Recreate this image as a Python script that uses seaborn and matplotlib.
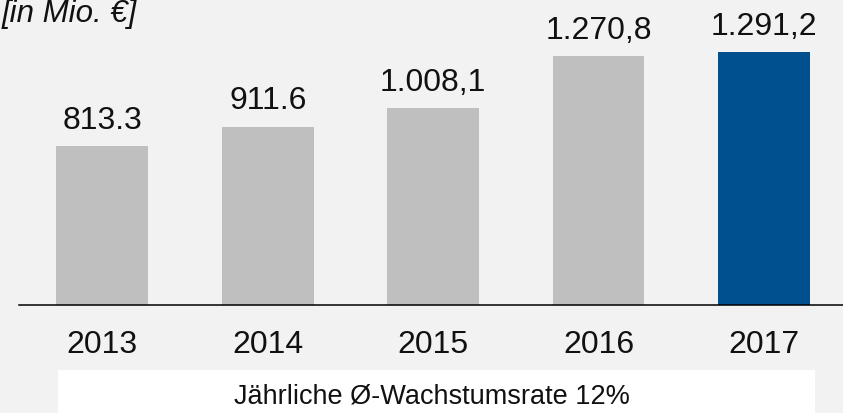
import matplotlib
matplotlib.use("Agg")
import matplotlib.pyplot as plt
import seaborn as sns
from matplotlib.patches import Rectangle

# data
years = ["2013", "2014", "2015", "2016", "2017"]
values = [813.3, 911.6, 1008.1, 1270.8, 1291.2]
value_labels = ["813.3", "911.6", "1.008,1", "1.270,8", "1.291,2"]
bar_colors = ["#bfbfbf", "#bfbfbf", "#bfbfbf", "#bfbfbf", "#005090"]
unit_label = "[in Mio. €]"
note = "Jährliche Ø-Wachstumsrate 12%"

sns.set_theme(style="white")
plt.rcParams["font.family"] = ["Liberation Sans", "DejaVu Sans"]

bg = "#f2f2f2"
W, H = 843, 414
fig = plt.figure(figsize=(W / 100, H / 100), dpi=100, facecolor=bg)
ax = fig.add_axes([19 / W, 108 / H, 824 / W, 306 / H])
ax.set_facecolor(bg)

sns.barplot(x=years, y=values, hue=years, palette=bar_colors, legend=False,
            width=0.555, linewidth=0, saturation=1, ax=ax)

# value labels on top of bars
for i, (v, lab) in enumerate(zip(values, value_labels)):
    ax.annotate(lab, (i, v), xytext=(0, 13), textcoords="offset points",
                ha="center", va="baseline", fontsize=23, color="#111111")

ax.set_xlim(-0.5036, 4.478)
ax.set_ylim(0, 1563)
ax.set_yticks([])
ax.set_xlabel("")
ax.set_ylabel("")
ax.tick_params(axis="x", length=0, pad=17, labelsize=23, colors="#111111")
for s in ["top", "right", "left"]:
    ax.spines[s].set_visible(False)
ax.spines["bottom"].set_color("black")
ax.spines["bottom"].set_linewidth(1.1)

# unit label top-left
fig.text(2 / W, 1 - 21.7 / H, unit_label, style="italic", fontsize=22.5,
         ha="left", va="baseline", color="#111111")

# growth rate box
fig.patches.append(Rectangle((58 / W, 0), 757 / W, 43 / H, transform=fig.transFigure,
                             facecolor="white", edgecolor="none", zorder=0))
fig.text(432 / W, 10 / H, note, fontsize=19.5, ha="center", va="baseline", color="#111111")

fig.savefig("out.png", dpi=100, facecolor=bg)
